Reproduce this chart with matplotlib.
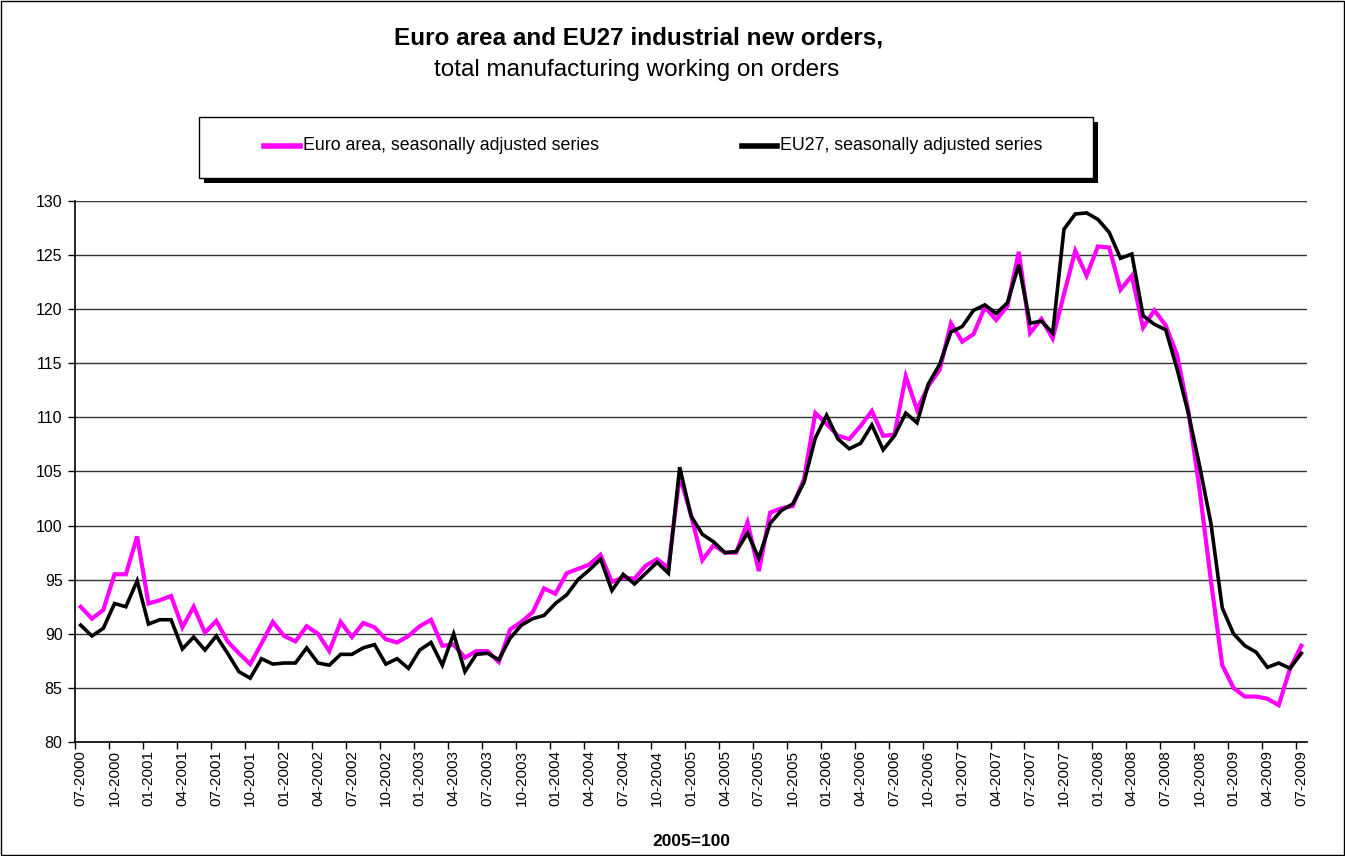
import numpy as np
import matplotlib
matplotlib.use("Agg")
import matplotlib.pyplot as plt
from matplotlib.patches import Rectangle
from matplotlib.lines import Line2D

plt.rcParams['font.family'] = ['Liberation Sans', 'DejaVu Sans']

# ---- data -------------------------------------------------------------
start_year, start_month = 2000, 7
n_months = 109
months = []
for k in range(n_months):
    m = (start_month - 1 + k) % 12 + 1
    y = start_year + (start_month - 1 + k) // 12
    months.append(f"{m:02d}-{y}")

euro_area = [92.5, 91.4, 92.2, 95.5, 95.5, 99.0, 92.8, 93.1, 93.5, 90.6,
             92.5, 90.1, 91.2, 89.3, 88.2, 87.2, 89.1, 91.1, 89.8, 89.3,
             90.7, 90.0, 88.4, 91.1, 89.7, 91.0, 90.6, 89.5, 89.2, 89.8,
             90.7, 91.3, 88.9, 89.0, 87.8, 88.4, 88.4, 87.4, 90.4, 91.1,
             92.0, 94.2, 93.7, 95.6, 96.0, 96.4, 97.3, 94.8, 95.2, 95.1,
             96.3, 96.9, 96.1, 104.6, 101.0, 96.8, 98.2, 97.5, 97.5, 100.3,
             95.8, 101.2, 101.6, 101.8, 104.3, 110.4, 109.4, 108.3, 108.0, 109.2,
             110.6, 108.3, 108.4, 113.8, 110.7, 112.9, 114.4, 118.7, 117.0, 117.7,
             120.2, 119.0, 120.3, 125.3, 117.8, 119.1, 117.3, 121.4, 125.4, 123.1,
             125.8, 125.7, 121.8, 123.1, 118.3, 119.9, 118.5, 115.8, 110.6, 103.3,
             94.9, 87.1, 85.0, 84.2, 84.2, 84.0, 83.4, 86.8, 88.9]

eu27 = [90.8, 89.8, 90.5, 92.8, 92.5, 94.9, 90.9, 91.3, 91.3, 88.6,
        89.7, 88.5, 89.8, 88.2, 86.5, 85.9, 87.7, 87.2, 87.3, 87.3,
        88.7, 87.3, 87.1, 88.1, 88.1, 88.7, 89.0, 87.2, 87.7, 86.8,
        88.5, 89.2, 87.1, 90.0, 86.5, 88.1, 88.2, 87.6, 89.6, 90.8,
        91.4, 91.7, 92.8, 93.6, 95.0, 95.9, 96.9, 94.0, 95.5, 94.6,
        95.6, 96.6, 95.6, 105.4, 100.9, 99.2, 98.5, 97.5, 97.6, 99.3,
        97.0, 100.2, 101.4, 102.0, 104.0, 108.1, 110.2, 108.0, 107.1, 107.6,
        109.3, 107.0, 108.3, 110.4, 109.5, 113.1, 114.9, 117.9, 118.4, 119.9,
        120.4, 119.6, 120.6, 124.1, 118.7, 118.9, 117.8, 127.4, 128.8, 128.9,
        128.3, 127.1, 124.7, 125.1, 119.4, 118.6, 118.1, 114.5, 110.4, 105.5,
        100.2, 92.4, 90.0, 88.9, 88.3, 86.9, 87.3, 86.8, 88.2]

series_labels = ["Euro area, seasonally adjusted series",
                 "EU27, seasonally adjusted series"]
title_line1 = "Euro area and EU27 industrial new orders,"
title_line2 = "total manufacturing working on orders"
x_note = "2005=100"
y_ticks = [80, 85, 90, 95, 100, 105, 110, 115, 120, 125, 130]

# ---- figure -----------------------------------------------------------
W, H = 1345, 856
fig = plt.figure(figsize=(W / 100, H / 100), dpi=100)
fig.patch.set_facecolor("white")

ax = fig.add_axes([75 / W, 1 - 742 / H, (1307 - 75) / W, (742 - 201) / H])
x = np.arange(n_months)
l_eu27, = ax.plot(x, eu27, color="black", lw=2.6, zorder=3, solid_joinstyle="miter")
l_euro, = ax.plot(x, euro_area, color="#FF00FF", lw=3.0, zorder=2, solid_joinstyle="miter")

ax.set_xlim(-0.5, n_months - 0.5)
ax.set_ylim(80, 130)
ax.set_yticks(y_ticks)
ax.set_yticklabels([str(v) for v in y_ticks], fontsize=11.5)
ax.yaxis.grid(True, color="#333333", lw=1.0)
ax.set_axisbelow(True)

label_idx = list(range(0, n_months, 3))
ax.set_xticks(np.arange(-0.5, n_months, 3))
ax.set_xticklabels([])
ax.tick_params(axis="x", which="major", length=5, width=1, direction="out", color="black")
ax.set_xticks(label_idx, minor=True)
ax.set_xticklabels([months[i] for i in label_idx], minor=True, rotation=90, fontsize=11)
ax.tick_params(axis="x", which="minor", length=0, pad=6)
ax.tick_params(axis="y", length=5, width=1, direction="out", pad=4)

for s in ["top", "right"]:
    ax.spines[s].set_visible(False)
ax.spines["left"].set_color("black")
ax.spines["bottom"].set_color("black")
ax.spines["left"].set_linewidth(1.2)
ax.spines["bottom"].set_linewidth(1.2)

# ---- titles -----------------------------------------------------------
fig.text(639 / W, 1 - 38 / H, title_line1, ha="center", va="center",
         fontsize=17.5, fontweight="bold")
fig.text(637 / W, 1 - 70 / H, title_line2, ha="center", va="center", fontsize=17.5)
fig.text(691 / W, 1 - 842 / H, x_note, ha="center", va="center",
         fontsize=12.5, fontweight="bold")

# ---- legend box -------------------------------------------------------
bx0, by0, bx1, by1 = 199, 117, 1093, 178
fig.add_artist(Rectangle(((bx0 + 5) / W, 1 - (by1 + 5) / H), (bx1 - bx0) / W, (by1 - by0) / H,
                         transform=fig.transFigure, facecolor="black", edgecolor="none", zorder=1))
fig.add_artist(Rectangle((bx0 / W, 1 - by1 / H), (bx1 - bx0) / W, (by1 - by0) / H,
                         transform=fig.transFigure, facecolor="white", edgecolor="black",
                         lw=1.0, zorder=2))
ly = 1 - 146 / H
for handle, label, x0, x1 in [(l_euro, series_labels[0], 264, 300),
                              (l_eu27, series_labels[1], 742, 777)]:
    fig.add_artist(Line2D([x0 / W, x1 / W], [ly, ly], transform=fig.transFigure,
                          color=handle.get_color(), lw=4, zorder=3))
    fig.text((x1 + 3) / W, ly, label, ha="left", va="center", fontsize=12.8, zorder=3)

# ---- outer frame ------------------------------------------------------
fig.add_artist(Rectangle((1 / W, 1 / H), (W - 2) / W, (H - 2) / H, transform=fig.transFigure,
                         facecolor="none", edgecolor="black", lw=1.0))

fig.savefig("out.png", dpi=100, facecolor="white")
